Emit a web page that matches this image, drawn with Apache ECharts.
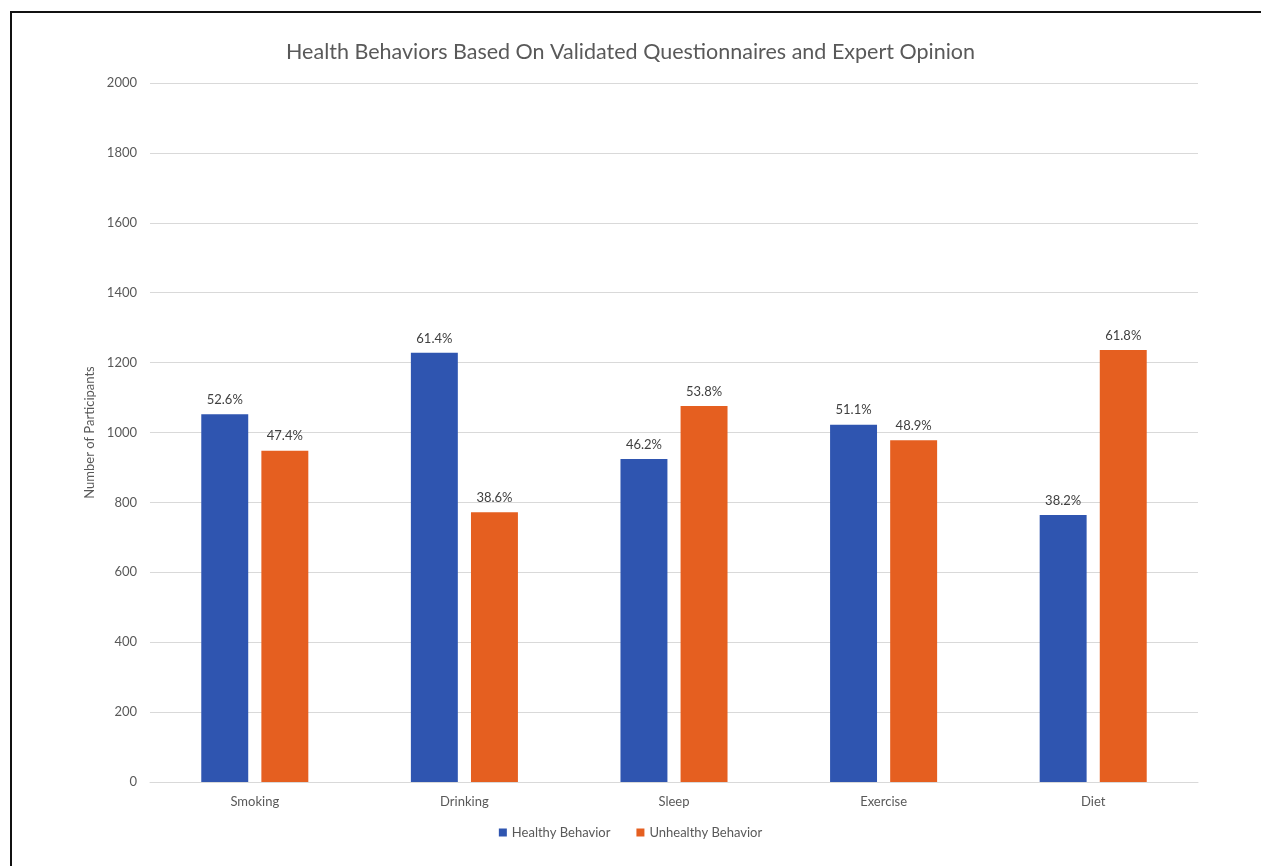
<!DOCTYPE html>
<html>
<head>
<meta charset="utf-8">
<script src="https://cdn.jsdelivr.net/npm/echarts@6/dist/echarts.min.js"></script>
<style>
  html, body { margin: 0; padding: 0; background: #fff; overflow: hidden; width: 1261px; height: 866px; }
  .edge { position: absolute; background: #111; }
  #chart { position: absolute; left: 0; top: 0; width: 1261px; height: 866px; }
</style>
</head>
<body>
<div id="chart"></div>
<div class="edge" style="left:10px; top:11px; width:1251px; height:2px;"></div>
<div class="edge" style="left:10px; top:11px; width:2px; height:855px;"></div>
<script>
const categories = ['Smoking', 'Drinking', 'Sleep', 'Exercise', 'Diet'];
const healthy = [1052, 1228, 924, 1022, 764];
const unhealthy = [948, 772, 1076, 978, 1236];
const healthyPct = ['52.6%', '61.4%', '46.2%', '51.1%', '38.2%'];
const unhealthyPct = ['47.4%', '38.6%', '53.8%', '48.9%', '61.8%'];

const font = 'Lato, "Open Sans", sans-serif';
const myChart = echarts.init(document.getElementById('chart'));

function barSeries(name, values, labels, color) {
  return {
    name: name,
    type: 'bar',
    data: values,
    barWidth: '22.4%',
    barGap: '28%',
    itemStyle: { color: color },
    label: {
      show: true,
      position: 'top',
      distance: 8,
      fontFamily: font,
      fontSize: 13,
      color: '#404040',
      formatter: p => labels[p.dataIndex]
    }
  };
}

myChart.setOption({
  animation: false,
  textStyle: { fontFamily: font },
  title: {
    text: 'Health Behaviors Based On Validated Questionnaires and Expert Opinion',
    left: 'center',
    top: 36,
    textStyle: { fontFamily: font, fontSize: 21.5, fontWeight: 'normal', color: '#595959' }
  },
  legend: {
    bottom: 22,
    left: 'center',
    itemWidth: 8,
    itemHeight: 8,
    itemGap: 26,
    icon: 'rect',
    textStyle: { fontFamily: font, fontSize: 13, color: '#595959' },
    data: ['Healthy Behavior', 'Unhealthy Behavior']
  },
  grid: { left: 150, right: 63, top: 83, bottom: 84 },
  xAxis: {
    type: 'category',
    data: categories,
    axisTick: { show: false },
    axisLine: { lineStyle: { color: '#d9d9d9' } },
    axisLabel: { fontFamily: font, fontSize: 13, color: '#595959', margin: 13 }
  },
  yAxis: {
    type: 'value',
    min: 0,
    max: 2000,
    interval: 200,
    name: 'Number of Participants',
    nameLocation: 'middle',
    nameGap: 42,
    nameTextStyle: { fontFamily: font, fontSize: 13, color: '#595959' },
    axisLabel: { fontFamily: font, fontSize: 13, color: '#595959', margin: 13, formatter: v => String(v) },
    splitLine: { lineStyle: { color: '#d9d9d9' } }
  },
  series: [
    barSeries('Healthy Behavior', healthy, healthyPct, '#2f55b0'),
    barSeries('Unhealthy Behavior', unhealthy, unhealthyPct, '#e55f20')
  ]
});
</script>
</body>
</html>
